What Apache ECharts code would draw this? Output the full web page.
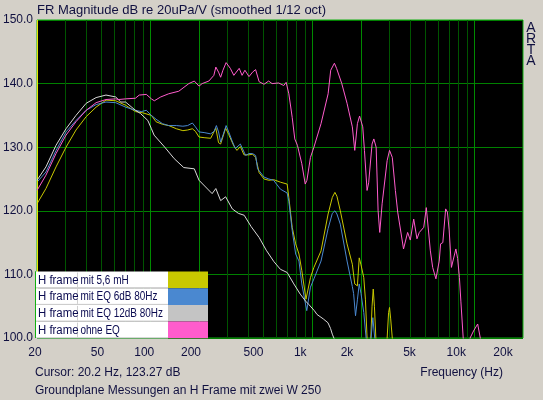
<!DOCTYPE html>
<html><head><meta charset="utf-8">
<script src="https://cdn.jsdelivr.net/npm/echarts@6/dist/echarts.min.js"></script>
<style>html,body{margin:0;padding:0;background:#d4d0c8}#c{width:543px;height:400px}</style>
</head><body><div id="c"></div><script>
// ---- data ----
const titleText = 'FR Magnitude dB re 20uPa/V (smoothed 1/12 oct)';
const cursorText = 'Cursor: 20.2 Hz, 123.27 dB';
const footText = 'Groundplane Messungen an H Frame mit zwei W 250';
const xAxisName = 'Frequency (Hz)';
const cursorFreq = 20.2;
const xTickLabels = [20, 50, 100, 200, 500, 1000, 2000, 5000, 10000, 20000];
const gridFreqs = [30,40,50,60,70,80,90,100,200,300,400,500,600,700,800,900,1000,2000,3000,4000,5000,6000,7000,8000,9000,10000];
const brightFreqs = [100, 200, 1000, 2000, 10000];
const legendNames = ['H frame mit 5,6 mH', 'H frame mit EQ 6dB 80Hz', 'H frame mit EQ 12dB 80Hz', 'H frame ohne EQ'];
const seriesColors = ['#c8c800', '#4a88d0', '#d8d8d8', '#ff5ccc'];

const yellowF  = [20,22.7,26.2,30.2,34.8,40.2,46.3,53.3,61.2,70.4,81,90,101.6,108.6,119,130,145,159,170,182,190,200,215,236,254,264,272,292,305,328,343,360,379,407,428,447,470,504,540,577,636,700,717,752,790,828,862,915,975,1024,1133,1253,1330,1380,1420,1490,1640,1768,1830,1900,1950,2000,2080,2130,2180,2230,2290,2340,2380,2420,2480,2530,2850,2900,2960,3000,3050,3120,3180,20000];
const yellowDb = [121.1,123.5,126.9,130.0,132.7,134.8,136.3,137.4,137.3,136.6,135.6,135.4,135.0,134.0,133.6,133.4,132.9,132.6,132.7,132.9,132.5,131.6,131.5,131.4,133.0,130.7,130.5,133.0,132.0,130.2,129.5,130.1,128.8,128.8,128.9,128.4,126.0,125.0,124.8,124.9,124.5,124.2,122.1,117.4,114.8,113.2,110.6,106.1,109.5,111.1,113.7,119.5,122.1,122.9,122.3,120.0,114.8,111.6,108.5,108.2,112.6,111.5,109.5,106.0,100.0,97,99,105,107.7,105,99,97,97,100,104,104.8,103,100,97,85];

const blueF  = [20,22.7,26.2,30.2,34.8,40.2,46.3,53.3,61.2,70.4,81,88,94.6,101.6,108.6,119,130,145,159,170,182,190,200,215,236,248,256,264,272,282,294,305,320,335,360,388,407,428,447,460,504,540,577,636,700,717,752,790,828,862,925,975,1024,1133,1253,1330,1380,1420,1490,1640,1768,1800,1850,1900,1950,2000,2080,2150,2200,2290,2366,2430,2480,20000];
const blueDb = [124.5,126.1,129.5,132.4,134.2,135.8,136.7,137.1,137.0,136.3,135.8,135.6,135.8,135.0,134.4,133.7,133.4,133.4,133.3,133.4,133.8,133.2,132.4,132.3,132.1,132.5,133.4,132.4,130.8,132.0,133.4,132.4,131.0,129.8,130.5,128.7,129.0,129.0,128.7,126.6,125.3,125.0,124.8,123.4,122.8,121.5,116.9,113.2,112.1,108.5,104.3,108.0,109.3,112.1,117.2,119.6,120.0,119.5,117.9,112.1,108.1,107.0,103.5,106.0,108.5,107.0,104.0,100.0,97,99,103.2,100,97,85];

const greyF  = [20,22.7,26.2,30.2,34.8,40.2,46.3,53.3,61.2,65.8,70.4,81,87,96.6,101.7,105.6,122.9,140.6,161,187,200,241,254,272,292,321,350,380,420,470,520,580,636,700,770,843,910,950,1030,1070,1170,1250,1297,1330,1370,1450,20000];
const greyDb = [124.8,126.9,130.3,132.9,135.0,136.9,137.8,138.2,137.9,137.1,137.1,135.8,135.3,134.2,132.9,131.9,130.0,128.2,126.8,126.6,124.8,122.7,123.5,121.6,122.2,120.3,119.6,119.3,117.5,115.8,113.8,112.0,110.8,110.3,108.5,106.9,105.8,105.3,104.3,103.7,103.0,102.4,101.5,100.6,99.8,97,85];

const pinkF  = [20,22.7,26.2,30.2,34.8,40.2,46.3,53.3,61.2,64,70.4,81,85.5,94.6,101.6,106,116,130,150,173,187,200,209,230,247,254,264,272,281,294,312,328,335,354,369,384,407,428,447,470,504,538,565,620,667,690,717,752,780,810,830,862,905,927,975,1024,1133,1253,1300,1370,1413,1522,1640,1768,1830,1900,1960,2050,2100,2180,2230,2340,2400,2480,2550,2610,2700,2900,3000,3120,3260,3370,3450,3660,3720,3880,3960,4030,4230,4280,4430,4580,4680,4880,5060,5120,5360,5540,5800,6080,6200,6400,6660,6830,7000,7230,7400,7700,7900,8100,8270,8550,8800,9200,9430,9900,10500,10900,11200,20000];
const pinkDb = [123.2,125.6,129.0,131.9,134.0,135.8,137.0,137.5,137.6,137.5,137.6,137.7,138.2,138.3,137.6,137.3,137.9,138.4,138.8,140.0,140.4,139.6,140.0,140.4,141.3,142.6,141.8,141.0,142.1,143.3,142.4,141.3,141.1,142.4,141.3,142.1,141.1,141.8,142.2,140.3,139.9,140.4,140.0,140.1,139.7,140.2,138.4,134.7,131.3,130.3,130.3,127.4,124.2,124.8,128.4,130.0,133.7,138.4,142.1,143.2,142.4,140.0,136.9,133.2,129.5,133.7,134.9,133.2,129.5,123.2,124.4,130.5,131.3,130.0,120.0,116.6,121.1,127.9,129.5,128.4,123.2,119.8,119.6,114.0,114.2,116.6,116.3,115.4,118.7,118.5,115.6,116.6,116.5,117.4,120.5,120.3,113.7,111.1,109.3,112.1,114.8,115.0,120.3,119.8,117.0,111.1,111.3,114.0,112.5,109.5,105.8,100.0,97,97,100.0,101.1,102.2,100.0,97,85];

// ---- chart ----
const curveSets = [[yellowF, yellowDb], [blueF, blueDb], [greyF, greyDb], [pinkF, pinkDb]];
const zip = (f, d) => f.map((v, i) => [v, d[i]]);
const txtColor = '#101040';
const FONT = 'Liberation Sans, Arial, sans-serif';

const rich = {};
for (let s = 0; s <= 30; s++) rich['s' + s] = { padding: [0, 2 * s, 0, 0], fontSize: 12, fontFamily: FONT, color: txtColor };
function fmtFreq(v) {
  const r = Math.round(v);
  const t = r >= 1000 ? (r / 1000) + 'k' : String(r);
  const s = Math.round(2 + 18 * Math.log10(r / 20) / 3);
  return '{s' + s + '|' + t + '}';
}

const series = [];
curveSets.forEach((cs, i) => {
  series.push({
    name: legendNames[i], type: 'line', data: zip(cs[0], cs[1]), showSymbol: false, symbol: 'none',
    clip: true, z: 3 + i, lineStyle: { color: seriesColors[i], width: 1 }, itemStyle: { color: seriesColors[i] }
  });
});
series.push({
  type: 'line', data: [], z: 2, silent: true,
  markLine: { silent: true, symbol: ['none', 'none'], label: { show: false }, animation: false,
    data: [{ xAxis: cursorFreq }], lineStyle: { color: '#e8e800', width: 1, type: 'solid' } }
});

// legend built from names/colors
const rowH = 16.7, legTop = 271.5, legLeft = 36, textW = 132, swW = 40;
const legendEls = [];
legendNames.forEach((n, i) => {
  const y = legTop + i * rowH;
  legendEls.push({ type: 'rect', shape: { x: legLeft, y: y, width: textW, height: rowH }, style: { fill: '#ffffff' }, z: 100 });
  legendEls.push({ type: 'rect', shape: { x: legLeft + textW, y: y, width: swW, height: rowH }, style: { fill: seriesColors[i] === '#d8d8d8' ? '#c4c4c4' : seriesColors[i] }, z: 100 });
  legendEls.push({ type: 'line', shape: { x1: legLeft, y1: y + rowH - 0.5, x2: legLeft + textW, y2: y + rowH - 0.5 }, style: { stroke: '#c8c8c8', lineWidth: 1 }, z: 101 });
  legendEls.push({ type: 'line', shape: { x1: 77.5, y1: y + 1, x2: 77.5, y2: y + rowH - 1 }, style: { stroke: '#d0d0d0', lineWidth: 1 }, z: 101 });
  legendEls.push({ type: 'text', x: 38, y: y + rowH / 2 + 0.5, scaleX: 0.95, style: { text: n.slice(0, 7), font: '12px ' + FONT, fill: '#0a0a50', verticalAlign: 'middle' }, z: 102 });
  legendEls.push({ type: 'text', x: 80.5, y: y + rowH / 2 + 0.5, scaleX: 0.83, style: { text: n.slice(8), font: '12px ' + FONT, fill: '#0a0a50', verticalAlign: 'middle' }, z: 102 });
});

const chart = echarts.init(document.getElementById('c'), null, { renderer: 'canvas' });
chart.setOption({
  animation: false,
  backgroundColor: '#d4d0c8',
  grid: { left: 36, right: 20, top: 20, bottom: 62, show: true, backgroundColor: '#000000', borderColor: '#10b010', borderWidth: 1 },
  xAxis: {
    type: 'log', logBase: 10, min: 20, max: 20000,
    axisLine: { show: false },
    axisTick: { show: false, customValues: gridFreqs },
    splitLine: { show: true, lineStyle: { width: 1, color: gridFreqs.map(f => brightFreqs.includes(f) ? '#008a00' : '#005400') } },
    minorSplitLine: { show: false },
    axisLabel: { customValues: xTickLabels, formatter: fmtFreq, rich: rich, margin: 9, fontSize: 12, fontFamily: FONT, color: txtColor, showMinLabel: true, showMaxLabel: true }
  },
  yAxis: {
    type: 'value', min: 100, max: 150, interval: 10,
    axisLine: { show: false }, axisTick: { show: false },
    splitLine: { show: true, lineStyle: { color: '#008000', width: 1 } },
    axisLabel: { formatter: v => v.toFixed(1), margin: 4, fontSize: 12, fontFamily: FONT, color: txtColor }
  },
  series: series,
  graphic: [
    { type: 'text', x: 37, y: 10, style: { text: titleText, font: '13px ' + FONT, fill: txtColor, verticalAlign: 'middle' } },
    { type: 'text', x: 531, y: 22, style: { text: 'A\nR\nT\nA', font: '14px ' + FONT, fill: txtColor, align: 'center', lineHeight: 11.3 } },
    { type: 'text', x: 35, y: 373, style: { text: cursorText, font: '12px ' + FONT, fill: txtColor, verticalAlign: 'middle' } },
    { type: 'text', x: 503, y: 373, style: { text: xAxisName, font: '12px ' + FONT, fill: txtColor, verticalAlign: 'middle', align: 'right' } },
    { type: 'text', x: 35, y: 391, style: { text: footText, font: '12px ' + FONT, fill: txtColor, verticalAlign: 'middle' } },
    ...legendEls,
    { type: 'rect', shape: { x: 35.5, y: legTop, width: 0, height: 338 - legTop }, style: { stroke: '#10b010', lineWidth: 1 }, z: 103 }
  ]
});
</script></body></html>
